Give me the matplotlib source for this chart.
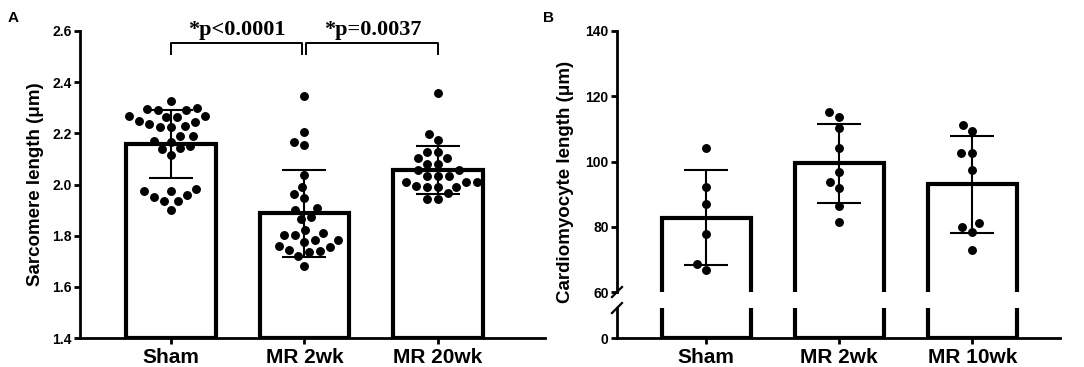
import numpy as np
import matplotlib
matplotlib.use("Agg")
import matplotlib.pyplot as plt
from matplotlib.lines import Line2D

# ---------------- data ----------------
cats_a = ["Sham", "MR 2wk", "MR 20wk"]
mean_a = [2.158, 1.887, 2.056]
sd_a = [0.134, 0.171, 0.093]
sham_sarc = [2.299, 2.290, 2.290, 2.296, 2.325, 2.266, 2.263, 2.246, 2.230, 2.224,
             2.224, 2.237, 2.250, 2.263, 2.266, 2.191, 2.191, 2.169, 2.167, 2.141,
             2.149, 2.138, 2.115, 1.974, 1.958, 1.936, 1.952, 1.902, 1.936, 1.974, 1.981]
mr2_sarc = [2.346, 2.204, 2.154, 2.167, 2.038, 1.991, 1.962, 1.949, 1.910, 1.902,
            1.874, 1.864, 1.812, 1.804, 1.824, 1.777, 1.782, 1.782, 1.801, 1.756,
            1.739, 1.719, 1.735, 1.743, 1.759, 1.683]
mr20_sarc = [2.356, 2.196, 2.174, 2.128, 2.128, 2.104, 2.104, 2.080, 2.080, 2.056,
             2.056, 2.034, 2.034, 2.034, 2.010, 2.010, 2.010, 1.995, 1.991, 1.991,
             1.991, 1.965, 1.943, 1.943]
yticks_a = [1.4, 1.6, 1.8, 2.0, 2.2, 2.4, 2.6]
sig_labels = ["*p<0.0001", "*p=0.0037"]

cats_b = ["Sham", "MR 2wk", "MR 10wk"]
mean_b = [82.8, 99.4, 93.0]
sd_b = [14.45, 12.1, 14.85]
sham_cm = [104.0, 92.3, 86.9, 77.7, 68.6, 66.6]
mr2_cm = [115.2, 113.7, 110.3, 104.0, 96.9, 93.8, 92.0, 86.4, 81.5]
mr10_cm = [111.3, 109.3, 102.7, 102.7, 97.4, 81.1, 80.0, 78.5, 72.9]
yticks_b_up = [60, 80, 100, 120, 140]
yticks_b_low = [0]

# ---------------- style ----------------
SANS = ["Liberation Sans", "DejaVu Sans"]
SERIF = ["Liberation Serif", "DejaVu Serif"]
plt.rcParams["font.family"] = SANS
plt.rcParams["font.weight"] = "bold"

W, H = 1084, 367
fig = plt.figure(figsize=(W / 100, H / 100), dpi=100)


def box(x0, x1, ytop, ybot):
    return [x0 / W, 1 - ybot / H, (x1 - x0) / W, (ybot - ytop) / H]


BAR_W = 0.67
BAR_LW = 3.0
SPINE_LW = 2.0
ERR_LW = 1.5
CAP = 16
MS = 5.4
TICK_FS = 10
XL_FS = 15
YL_FS = 13.5
SWARM_D = 11.0


def swarm(ax, x0, vals, d_px):
    trans = ax.transData
    pts = trans.transform(np.column_stack([np.full(len(vals), x0), vals]))
    ys = pts[:, 1]
    xc = pts[0, 0]
    order = np.argsort(ys)
    placed = []
    xs = np.zeros(len(vals))
    for i in order:
        y = ys[i]
        cands = [xc]
        for (px, py) in placed:
            dy = abs(py - y)
            if dy < d_px:
                dx = np.sqrt(d_px ** 2 - dy ** 2)
                cands += [px + dx, px - dx]
        cands = sorted(cands, key=lambda c: (round(abs(c - xc), 6), c))
        for c in cands:
            if all((c - px) ** 2 + (y - py) ** 2 >= d_px ** 2 - 1e-6 for px, py in placed):
                xs[i] = c
                placed.append((c, y))
                break
    inv = trans.inverted()
    return inv.transform(np.column_stack([xs, ys]))[:, 0]


def style_axis(ax, left=True, bottom=True):
    for s in ["top", "right"]:
        ax.spines[s].set_visible(False)
    ax.spines["left"].set_visible(left)
    ax.spines["bottom"].set_visible(bottom)
    ax.spines["left"].set_linewidth(SPINE_LW)
    ax.spines["bottom"].set_linewidth(SPINE_LW)
    ax.tick_params(axis="both", width=SPINE_LW, length=4, labelsize=TICK_FS, pad=2)
    ax.patch.set_alpha(0)


# ---------------- Panel A ----------------
axA = fig.add_axes(box(80, 545, 31, 338))
xa = np.arange(len(cats_a))
axA.set_xlim(-0.68, 2.8)
axA.set_ylim(1.4, 2.6)
axA.bar(xa, np.array(mean_a) - 1.4, bottom=1.4, width=BAR_W, facecolor="white",
        edgecolor="black", linewidth=BAR_LW, zorder=2)
axA.errorbar(xa, mean_a, yerr=sd_a, fmt="none", ecolor="black", elinewidth=ERR_LW,
             capsize=CAP, capthick=ERR_LW, zorder=3)
for i, vals in enumerate([sham_sarc, mr2_sarc, mr20_sarc]):
    xs = swarm(axA, xa[i], np.array(vals), SWARM_D)
    axA.plot(xs, vals, "o", color="black", markersize=MS, zorder=4, clip_on=False)
style_axis(axA)
axA.set_yticks(yticks_a)
axA.set_yticklabels([f"{v:.1f}" for v in yticks_a])
axA.set_xticks(xa)
axA.set_xticklabels(cats_a, fontsize=XL_FS, fontweight="bold")
axA.tick_params(axis="x", pad=3)
axA.set_ylabel("Sarcomere length (μm)", fontsize=YL_FS, fontweight="bold", labelpad=6)

# significance brackets
br_top, br_bot = 2.554, 2.512
for (x0, x1), lab in zip([(0.0, 0.985), (1.015, 2.0)], sig_labels):
    axA.plot([x0, x0, x1, x1], [br_bot, br_top, br_top, br_bot], color="black",
             lw=1.4, clip_on=False, zorder=5)
    axA.text((x0 + x1) / 2, br_top + 0.010, lab, ha="center", va="bottom",
             fontsize=16, fontweight="bold", family=SERIF, clip_on=False)

fig.text(13 / W, 1 - 18 / H, "A", fontsize=11, fontweight="bold", ha="center", va="center")

# ---------------- Panel B ----------------
up_top, up_bot = 31, 292
low_top, low_bot = 308, 338
scale = (up_bot - up_top) / 80.0
axBu = fig.add_axes(box(617, 1060, up_top, up_bot))
axBl = fig.add_axes(box(617, 1060, low_top, low_bot))
xb = np.arange(len(cats_b))
for ax in (axBu, axBl):
    ax.set_xlim(-0.67, 2.66)
axBu.set_ylim(60, 140)
axBl.set_ylim(0, (low_bot - low_top) / scale)

for ax in (axBu, axBl):
    ax.bar(xb, mean_b, width=BAR_W, facecolor="white", edgecolor="black",
           linewidth=BAR_LW, zorder=2)
axBu.errorbar(xb, mean_b, yerr=sd_b, fmt="none", ecolor="black", elinewidth=ERR_LW,
              capsize=CAP, capthick=ERR_LW, zorder=3)
for i, vals in enumerate([sham_cm, mr2_cm, mr10_cm]):
    xs = swarm(axBu, xb[i], np.array(vals), SWARM_D)
    axBu.plot(xs, vals, "o", color="black", markersize=MS, zorder=4)

style_axis(axBu, left=True, bottom=False)
style_axis(axBl, left=True, bottom=True)
axBu.set_yticks(yticks_b_up)
axBu.set_yticklabels([str(v) for v in yticks_b_up])
axBu.set_xticks([])
axBl.set_yticks(yticks_b_low)
axBl.set_yticklabels([str(v) for v in yticks_b_low])
axBl.set_xticks(xb)
axBl.set_xticklabels(cats_b, fontsize=XL_FS, fontweight="bold")
axBl.tick_params(axis="x", pad=3)
fig.text(566 / W, 1 - 182 / H, "Cardiomyocyte length (μm)", rotation=90,
         fontsize=YL_FS, fontweight="bold", ha="center", va="center")

# axis break marks
for yb in (up_bot, low_top):
    fig.add_artist(Line2D([612 / W, 622 / W], [1 - (yb + 5) / H, 1 - (yb - 5) / H],
                          color="black", lw=1.6))

fig.text(548 / W, 1 - 18 / H, "B", fontsize=11, fontweight="bold", ha="center", va="center")

fig.savefig("out.png", dpi=100)
